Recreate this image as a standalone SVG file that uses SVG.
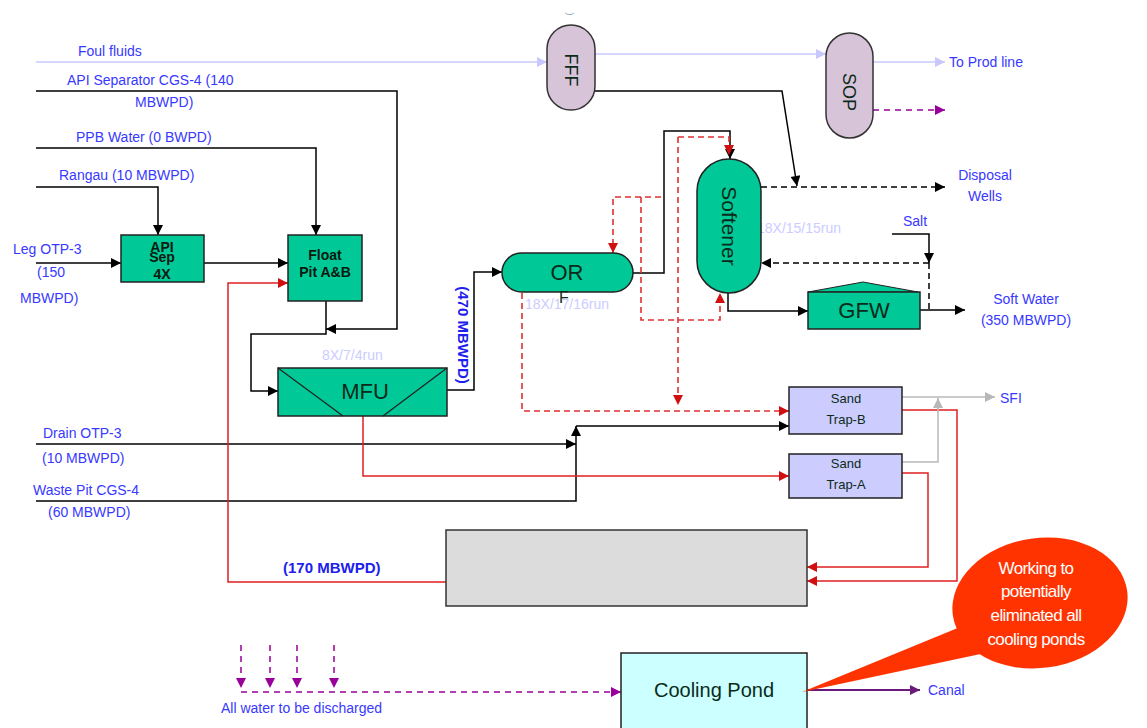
<svg xmlns="http://www.w3.org/2000/svg" width="1147" height="728" viewBox="0 0 1147 728">
<defs>
<style>
.lbl{font-family:"Liberation Sans",Arial,sans-serif;font-size:14px;fill:#3838ff}
.lb{font-family:"Liberation Sans",Arial,sans-serif;font-size:15px;font-weight:bold;fill:#2020ee}
.run{font-family:"Liberation Sans",Arial,sans-serif;font-size:14px;fill:#ccccff}
.nt{font-family:"Liberation Sans",Arial,sans-serif;fill:#0a2a1a;text-anchor:middle}
.ntb{font-family:"Liberation Sans",Arial,sans-serif;font-weight:bold;fill:#0a1a10;text-anchor:middle;font-size:14px}
.green{fill:#00c896;stroke:#222;stroke-width:1.5}
.lilac{fill:#d8c4d8;stroke:#333;stroke-width:1.5}
.blue{fill:#ccccff;stroke:#222;stroke-width:1.5}
.k{fill:none;stroke:#000;stroke-width:1.5}
.kd{fill:none;stroke:#000;stroke-width:1.5;stroke-dasharray:6 4}
.r{fill:none;stroke:#e02020;stroke-width:1.5}
.rd{fill:none;stroke:#e03030;stroke-width:1.6;stroke-dasharray:6 4}
.lv{fill:none;stroke:#c8c8ff;stroke-width:1.5}
.g{fill:none;stroke:#b8b8b8;stroke-width:1.5}
.pd{fill:none;stroke:#990099;stroke-width:1.5;stroke-dasharray:6 5}
.p{fill:none;stroke:#6a1a7a;stroke-width:1.8}
</style>
<marker id="ak" viewBox="0 0 10 10" refX="10" refY="5" markerWidth="11" markerHeight="10" markerUnits="userSpaceOnUse" orient="auto"><path d="M0,0L10,5L0,10z" fill="#000"/></marker>
<marker id="ar" viewBox="0 0 10 10" refX="10" refY="5" markerWidth="11" markerHeight="10" markerUnits="userSpaceOnUse" orient="auto"><path d="M0,0L10,5L0,10z" fill="#d01010"/></marker>
<marker id="alv" viewBox="0 0 10 10" refX="10" refY="5" markerWidth="11" markerHeight="10" markerUnits="userSpaceOnUse" orient="auto"><path d="M0,0L10,5L0,10z" fill="#c8c8ff"/></marker>
<marker id="ag" viewBox="0 0 10 10" refX="10" refY="5" markerWidth="11" markerHeight="10" markerUnits="userSpaceOnUse" orient="auto"><path d="M0,0L10,5L0,10z" fill="#b8b8b8"/></marker>
<marker id="ap" viewBox="0 0 10 10" refX="10" refY="5" markerWidth="11" markerHeight="10" markerUnits="userSpaceOnUse" orient="auto"><path d="M0,0L10,5L0,10z" fill="#990099"/></marker>
<marker id="ap2" viewBox="0 0 10 10" refX="10" refY="5" markerWidth="11" markerHeight="10" markerUnits="userSpaceOnUse" orient="auto"><path d="M0,0L10,5L0,10z" fill="#6a1a7a"/></marker>
</defs>
<rect width="1147" height="728" fill="#fff"/>

<g id="connectors">
<path class="lv" d="M36,62H547" marker-end="url(#alv)"/>
<path class="lv" d="M595,54H826" marker-end="url(#alv)"/>
<path class="lv" d="M873,62H945" marker-end="url(#alv)"/>
<path class="pd" d="M873,110H945" marker-end="url(#ap)"/>
<path class="k" d="M595,91H782L797,186" marker-end="url(#ak)"/>
<path class="kd" d="M761,187H945" marker-end="url(#ak)"/>
<path class="k" d="M36,91H397V329H326" marker-end="url(#ak)"/>
<path class="k" d="M36,148H316V235" marker-end="url(#ak)"/>
<path class="k" d="M36,187H158V235" marker-end="url(#ak)"/>
<path class="k" d="M36,263H121" marker-end="url(#ak)"/>
<path class="k" d="M204,263H288" marker-end="url(#ak)"/>
<path class="k" d="M326,301V334H251V391H278" marker-end="url(#ak)"/>
<path class="k" d="M447,390H474V272H502" marker-end="url(#ak)"/>
<path class="k" d="M633,273H664V131H730V159" marker-end="url(#ak)"/>
<path class="k" d="M728,293V311H808" marker-end="url(#ak)"/>
<path class="k" d="M920,310H965" marker-end="url(#ak)"/>
<path class="k" d="M892,234H929V263" marker-end="url(#ak)"/>
<path class="kd" d="M929,263H761" marker-end="url(#ak)"/>
<path class="kd" d="M929,263V310"/>
<path class="k" d="M36,444H576" marker-end="url(#ak)"/>
<path class="k" d="M36,501H576V426" marker-end="url(#ak)"/>
<path class="k" d="M576,426H789" marker-end="url(#ak)"/>
<path class="r" d="M446,582H228V283H288" marker-end="url(#ar)"/>
<path class="r" d="M363,416V476H789" marker-end="url(#ar)"/>
<path class="r" d="M902,410H957V581H807" marker-end="url(#ar)"/>
<path class="r" d="M902,473H928V567H807" marker-end="url(#ar)"/>
<path class="rd" d="M678,137H729V155" marker-end="url(#ar)"/>
<path class="rd" d="M678,137V405" marker-end="url(#ar)"/>
<path class="rd" d="M661,197H613V253" marker-end="url(#ar)"/>
<path class="rd" d="M641,197V320H720V293" marker-end="url(#ar)"/>
<path class="rd" d="M522,293V411H789" marker-end="url(#ar)"/>
<path class="g" d="M902,397H995" marker-end="url(#ag)"/>
<path class="g" d="M902,462H938V398" marker-end="url(#ag)"/>
<path class="pd" d="M241,645V688" marker-end="url(#ap)"/>
<path class="pd" d="M270,645V688" marker-end="url(#ap)"/>
<path class="pd" d="M297,645V688" marker-end="url(#ap)"/>
<path class="pd" d="M334,645V688" marker-end="url(#ap)"/>
<path class="pd" d="M241,692H621" marker-end="url(#ap)"/>
<path class="p" d="M807,690H920" marker-end="url(#ap2)"/>
</g>

<g id="labels">
<text class="lbl" x="78" y="56">Foul fluids</text>
<text class="lbl" x="67" y="85">API Separator CGS-4 (140</text>
<text class="lbl" x="135" y="107">MBWPD)</text>
<text class="lbl" x="76" y="142">PPB Water (0 BWPD)</text>
<text class="lbl" x="59" y="180">Rangau (10 MBWPD)</text>
<text class="lbl" x="13" y="254">Leg OTP-3</text>
<text class="lbl" x="37" y="277">(150</text>
<text class="lbl" x="20" y="303">MBWPD)</text>
<text class="lbl" x="43" y="438">Drain OTP-3</text>
<text class="lbl" x="42" y="463">(10 MBWPD)</text>
<text class="lbl" x="33" y="495">Waste Pit CGS-4</text>
<text class="lbl" x="48" y="517">(60 MBWPD)</text>
<text class="lbl" x="949" y="67">To Prod line</text>
<text class="lbl" x="985" y="180" text-anchor="middle">Disposal</text>
<text class="lbl" x="985" y="201" text-anchor="middle">Wells</text>
<text class="lbl" x="903" y="226">Salt</text>
<text class="lbl" x="1026" y="304" text-anchor="middle">Soft Water</text>
<text class="lbl" x="1026" y="325" text-anchor="middle">(350 MBWPD)</text>
<text class="lbl" x="1000" y="403">SFI</text>
<text class="lbl" x="928" y="695">Canal</text>
<text class="lbl" x="221" y="713">All water to be discharged</text>
<text class="lb" x="283" y="573">(170 MBWPD)</text>
<text class="lb" x="463" y="335" text-anchor="middle" dominant-baseline="central" font-size="13" transform="rotate(90 463 335)">(470 MBWPD)</text>
<text class="run" x="322" y="360">8X/7/4run</text>
<text class="run" x="525" y="309">18X/17/16run</text>
<text class="run" x="757" y="233">18X/15/15run</text>
<text x="570" y="14" font-family="Liberation Sans,Arial,sans-serif" font-size="9" fill="#88a0c0" text-anchor="middle" dominant-baseline="central" transform="rotate(90 570 14)">)</text>
</g>

<g id="fff"><rect class="lilac" x="547" y="25" width="48" height="85" rx="24"/><text class="nt" x="571" y="70" font-size="18" dominant-baseline="central" transform="rotate(90 571 70)">FFF</text></g>
<g id="sop"><rect class="lilac" x="826" y="33" width="47" height="105" rx="23.5"/><text class="nt" x="849" y="92" font-size="18" dominant-baseline="central" transform="rotate(90 849 92)">SOP</text></g>
<g id="softener"><rect class="green" x="697" y="159" width="64" height="134" rx="32"/><text class="nt" x="729" y="226" font-size="21" dominant-baseline="central" transform="rotate(90 729 226)">Softener</text></g>
<g id="or"><rect class="green" x="502" y="253" width="131" height="39" rx="19.5"/><text class="nt" x="567" y="280" font-size="22">OR</text><text class="nt" x="564" y="303" font-size="16" fill="#333">F</text></g>
<g id="gfw"><path d="M808,292L863,282L918,292z" fill="#00c896" stroke="#222" stroke-width="1"/><rect class="green" x="808" y="292" width="112" height="37"/><text class="nt" x="864" y="318" font-size="22">GFW</text></g>
<g id="api"><rect class="green" x="121" y="235" width="83" height="47"/><text class="ntb" x="162" y="252">API</text><text class="ntb" x="162" y="262">Sep</text><text class="ntb" x="162" y="279">4X</text></g>
<g id="float"><rect class="green" x="288" y="235" width="74" height="66"/><text class="ntb" x="325" y="260">Float</text><text class="ntb" x="325" y="277">Pit A&amp;B</text></g>
<g id="mfu"><rect class="green" x="278" y="368" width="169" height="48"/><path d="M278,368L343,416M447,368L383,416" stroke="#222" stroke-width="1.2" fill="none"/><text class="nt" x="365" y="399" font-size="22">MFU</text></g>
<g id="sandb"><rect class="blue" x="789" y="387" width="113" height="47"/><text class="nt" x="846" y="403" font-size="13" fill="#333">Sand</text><text class="nt" x="846" y="424" font-size="13" fill="#333">Trap-B</text></g>
<g id="sanda"><rect class="blue" x="789" y="454" width="113" height="44"/><text class="nt" x="846" y="468" font-size="13" fill="#333">Sand</text><text class="nt" x="846" y="489" font-size="13" fill="#333">Trap-A</text></g>
<g id="graybox"><rect x="446" y="530" width="361" height="76" fill="#dcdcdc" stroke="#333" stroke-width="1.5"/></g>
<g id="cooling"><rect x="621" y="653" width="186" height="80" fill="#ccffff" stroke="#222" stroke-width="1.5"/><text class="nt" x="714" y="697" font-size="20" fill="#222">Cooling Pond</text></g>
<g id="callout"><path d="M965,625L802,692L990,652z" fill="#ff3300"/><ellipse cx="1040" cy="603" rx="88" ry="65" fill="#ff3300" transform="rotate(-8 1040 603)"/>
<text font-family="Liberation Sans,Arial,sans-serif" font-size="17" fill="#fff" text-anchor="middle" letter-spacing="-0.6"><tspan x="1036" y="574">Working to</tspan><tspan x="1036" y="597">potentially</tspan><tspan x="1036" y="621">eliminated all</tspan><tspan x="1036" y="645">cooling ponds</tspan></text></g>
</svg>
